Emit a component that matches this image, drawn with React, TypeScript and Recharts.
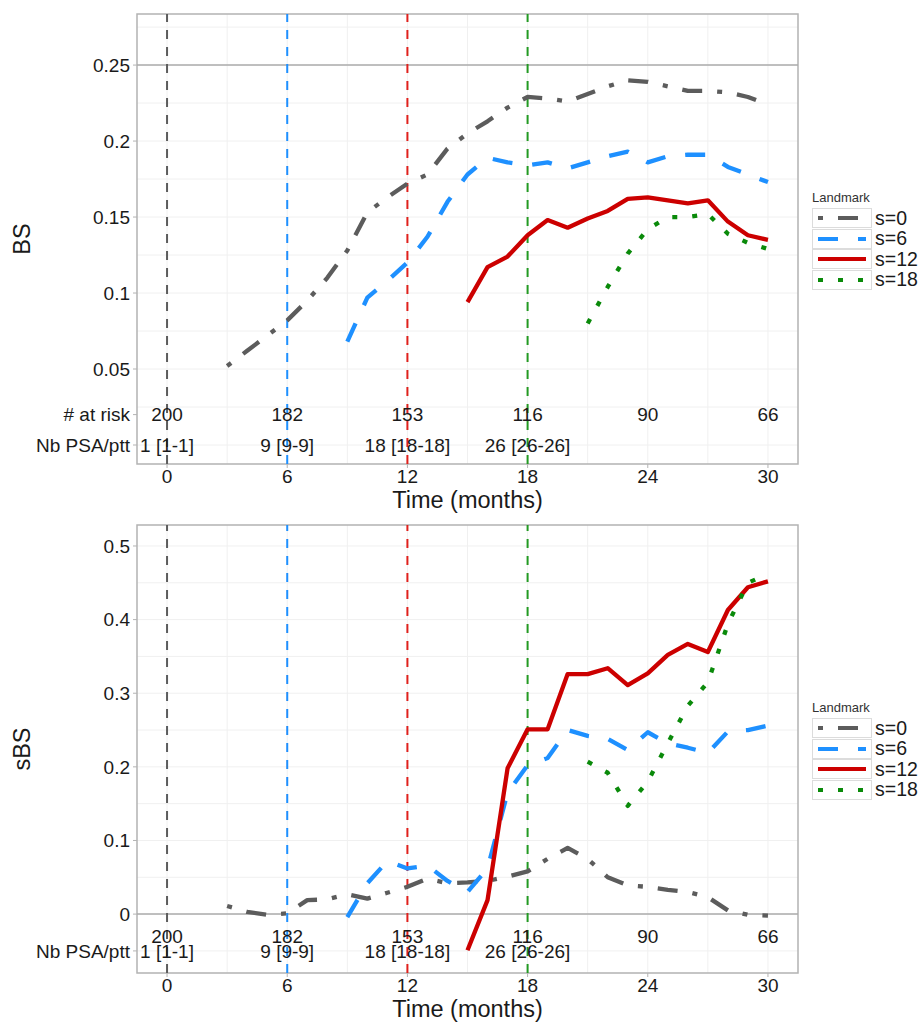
import { ComposedChart, Line, XAxis, YAxis, CartesianGrid, ReferenceLine, ReferenceDot, ReferenceArea, Legend } from 'recharts'

// prediction horizons (months); every series ends at month 30
const MONTHS = [3, 4, 5, 6, 7, 8, 9, 10, 11, 12, 13, 14, 15, 16, 17, 18, 19, 20, 21, 22, 23, 24, 25, 26, 27, 28, 29, 30]

// Brier score by landmark
const BS_S0 = [0.052, 0.062, 0.072, 0.082, 0.095, 0.11, 0.128, 0.153, 0.163, 0.172, 0.178, 0.195, 0.205, 0.213, 0.222, 0.229, 0.228, 0.226, 0.231, 0.236, 0.24, 0.239, 0.236, 0.233, 0.233, 0.232, 0.229, 0.224]
const BS_S6 = [0.068, 0.097, 0.108, 0.12, 0.137, 0.16, 0.178, 0.189, 0.186, 0.184, 0.186, 0.182, 0.186, 0.19, 0.193, 0.186, 0.19, 0.191, 0.191, 0.183, 0.178, 0.173]
const BS_S12 = [0.094, 0.117, 0.124, 0.138, 0.148, 0.143, 0.149, 0.154, 0.162, 0.163, 0.161, 0.159, 0.161, 0.147, 0.138, 0.135]
const BS_S18 = [0.08, 0.104, 0.126, 0.142, 0.15, 0.15, 0.152, 0.139, 0.133, 0.129]

// scaled Brier score by landmark
const SBS_S0 = [0.011, 0.003, -0.001, 0.001, 0.019, 0.02, 0.027, 0.021, 0.029, 0.037, 0.048, 0.042, 0.043, 0.045, 0.051, 0.058, 0.075, 0.09, 0.075, 0.05, 0.039, 0.037, 0.033, 0.03, 0.023, 0.005, -0.001, -0.002]
const SBS_S6 = [-0.004, 0.042, 0.072, 0.062, 0.066, 0.045, 0.03, 0.062, 0.165, 0.202, 0.212, 0.25, 0.242, 0.238, 0.223, 0.247, 0.232, 0.226, 0.219, 0.248, 0.25, 0.256]
const SBS_S12 = [-0.049, 0.019, 0.198, 0.251, 0.251, 0.326, 0.326, 0.334, 0.311, 0.327, 0.352, 0.367, 0.356, 0.413, 0.444, 0.452]
const SBS_S18 = [0.207, 0.192, 0.147, 0.18, 0.232, 0.283, 0.315, 0.394, 0.45, 0.462]

const X_TICKS = [0, 6, 12, 18, 24, 30]
const X_GRID = [0, 3, 6, 9, 12, 15, 18, 21, 24, 27, 30]
const LANDMARKS = [0, 6, 12, 18]
const RISK_MONTHS = [0, 6, 12, 18, 24, 30]
const AT_RISK = ['200', '182', '153', '116', '90', '66']
const NB_PSA = ['1 [1-1]', '9 [9-9]', '18 [18-18]', '26 [26-26]']

const SERIES = [
  { name: 's=0', color: '#5c5c5c', dash: '5 15 20 15' },
  { name: 's=6', color: '#1e90ff', dash: '20 20' },
  { name: 's=12', color: '#cc0000', dash: undefined },
  { name: 's=18', color: '#0a8a0a', dash: '5 15' },
]
const VLINE_COLORS = ['#5c5c5c', '#1e90ff', '#e0201c', '#229a22']

const FONT = '"Liberation Sans", Arial, sans-serif'
const TEXT = '#1a1a1a'
const X_DOMAIN: [number, number] = [-1.5, 31.5]

const toPoints = (values: number[]) =>
  values.map((v, i) => ({ t: MONTHS[MONTHS.length - values.length + i], v }))

function LandmarkLegend() {
  return (
    <div style={{ fontFamily: FONT, color: TEXT }}>
      <div style={{ fontSize: 13, color: '#333', marginBottom: 3 }}>Landmark</div>
      {SERIES.map((s) => (
        <div key={s.name} style={{ display: 'flex', alignItems: 'center', height: 20.5 }}>
          <svg width={60} height={20} style={{ display: 'block' }}>
            <rect x={0.5} y={0.5} width={59} height={19} fill="#fff" stroke="#dcdcdc" />
            <line x1={6} x2={54} y1={10} y2={10} stroke={s.color} strokeWidth={4} strokeDasharray={s.dash} />
          </svg>
          <span style={{ fontSize: 19.5, marginLeft: 3 }}>{s.name}</span>
        </div>
      ))}
    </div>
  )
}

function Panel({
  yLabel,
  series,
  yDomain,
  yTicks,
  yGrid,
  riskY,
  psaY,
  hline,
  top,
  xAxisHeight,
  titleOffset,
  legendTop,
}: {
  yLabel: string
  series: number[][]
  yDomain: [number, number]
  yTicks: number[]
  yGrid: number[]
  riskY: number
  psaY: number
  hline: number
  top: number
  xAxisHeight: number
  titleOffset: number
  legendTop: number
}) {
  const yFormat = (v: number) => (v === riskY ? '# at risk' : v === psaY ? 'Nb PSA/ptt' : String(v))
  return (
    <ComposedChart width={918} height={513} margin={{ top, right: 120, left: 0, bottom: 0 }} style={{ fontFamily: FONT }}>
      <CartesianGrid horizontalValues={yGrid} verticalValues={X_GRID} stroke="#f0f0f0" strokeWidth={1} />
      <XAxis
        type="number"
        dataKey="t"
        domain={X_DOMAIN}
        ticks={X_TICKS}
        allowDataOverflow
        axisLine={false}
        tickLine={{ stroke: '#b3b3b3' }}
        tickSize={4}
        tickMargin={2}
        height={xAxisHeight}
        tick={{ fontSize: 19, fill: TEXT }}
        label={{ value: 'Time (months)', position: 'insideBottom', offset: titleOffset, fontSize: 23.5, fill: TEXT }}
      />
      <YAxis
        type="number"
        domain={yDomain}
        ticks={yTicks}
        allowDataOverflow
        width={137}
        axisLine={false}
        tickLine={{ stroke: '#b3b3b3' }}
        tickSize={4}
        tickMargin={3}
        tickFormatter={yFormat}
        tick={{ fontSize: 19, fill: TEXT }}
        label={{ value: yLabel, angle: -90, position: 'insideLeft', offset: 22, fontSize: 23.5, fill: TEXT, textAnchor: 'middle' }}
      />
      <ReferenceArea x1={X_DOMAIN[0]} x2={X_DOMAIN[1]} y1={yDomain[0]} y2={yDomain[1]} fill="none" stroke="#b3b3b3" strokeWidth={1.5} />
      <ReferenceLine y={hline} stroke="#ababab" strokeWidth={1.5} />
      {RISK_MONTHS.map((m, i) => (
        <ReferenceDot key={`r${m}`} x={m} y={riskY} r={1} fill="none" stroke="none"
          label={{ value: AT_RISK[i], position: 'center', fontSize: 19, fill: TEXT }} />
      ))}
      {NB_PSA.map((txt, i) => (
        <ReferenceDot key={`p${i}`} x={RISK_MONTHS[i]} y={psaY} r={1} fill="none" stroke="none"
          label={{ value: txt, position: 'center', fontSize: 19, fill: TEXT }} />
      ))}
      {LANDMARKS.map((m, i) => (
        <ReferenceLine key={`v${m}`} x={m} stroke={VLINE_COLORS[i]} strokeWidth={2} strokeDasharray="9 8" />
      ))}
      {series.map((values, i) => (
        <Line
          key={SERIES[i].name}
          name={SERIES[i].name}
          data={toPoints(values)}
          dataKey="v"
          type="linear"
          stroke={SERIES[i].color}
          strokeWidth={4.3}
          strokeDasharray={SERIES[i].dash}
          strokeLinejoin="round"
          dot={false}
          activeDot={false}
          isAnimationActive={false}
        />
      ))}
      <Legend
        layout="vertical"
        align="center"
        verticalAlign="middle"
        content={<LandmarkLegend />}
        wrapperStyle={{ left: 812, top: legendTop, width: 106 }}
      />
    </ComposedChart>
  )
}

export default function App() {
  return (
    <div style={{ position: 'absolute', left: 0, top: 0, width: 918, height: 1026, background: '#fff' }}>
      <Panel
        yLabel="BS"
        series={[BS_S0, BS_S6, BS_S12, BS_S18]}
        yDomain={[-0.0125, 0.2836]}
        yTicks={[0, 0.02, 0.05, 0.1, 0.15, 0.2, 0.25]}
        yGrid={[0, 0.025, 0.05, 0.075, 0.1, 0.125, 0.15, 0.175, 0.2, 0.225, 0.25, 0.275]}
        riskY={0.02}
        psaY={0}
        hline={0.25}
        top={14}
        xAxisHeight={49}
        titleOffset={5}
        legendTop={190}
      />
      <Panel
        yLabel="sBS"
        series={[SBS_S0, SBS_S6, SBS_S12, SBS_S18]}
        yDomain={[-0.08, 0.5285]}
        yTicks={[-0.05, -0.03, 0, 0.1, 0.2, 0.3, 0.4, 0.5]}
        yGrid={[-0.05, 0, 0.05, 0.1, 0.15, 0.2, 0.25, 0.3, 0.35, 0.4, 0.45, 0.5]}
        riskY={-0.03}
        psaY={-0.05}
        hline={0}
        top={12}
        xAxisHeight={53}
        titleOffset={9}
        legendTop={187}
      />
    </div>
  )
}
